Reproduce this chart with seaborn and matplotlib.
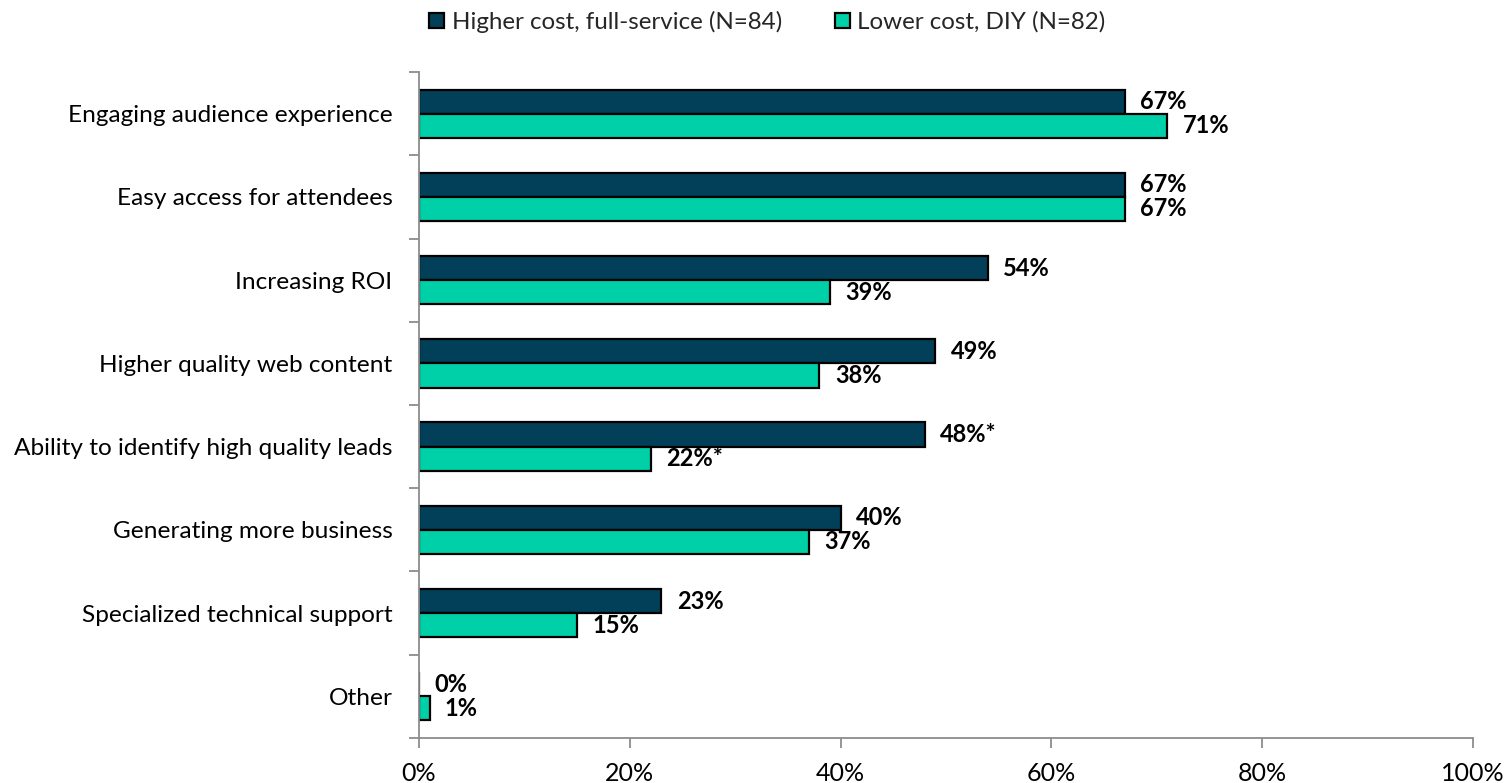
import matplotlib
matplotlib.use("Agg")
import matplotlib.pyplot as plt
import seaborn as sns
import pandas as pd
import numpy as np
from matplotlib.ticker import FixedLocator, PercentFormatter

categories = [
    "Engaging audience experience",
    "Easy access for attendees",
    "Increasing ROI",
    "Higher quality web content",
    "Ability to identify high quality leads",
    "Generating more business",
    "Specialized technical support",
    "Other",
]
series_names = ["Higher cost, full-service (N=84)", "Lower cost, DIY (N=82)"]
higher_cost = [67, 67, 54, 49, 48, 40, 23, 0]
lower_cost = [71, 67, 39, 38, 22, 37, 15, 1]
higher_marks = ["", "", "", "", "*", "", "", ""]
lower_marks = ["", "", "", "", "*", "", "", ""]
x_ticks = [0, 20, 40, 60, 80, 100]

df = pd.DataFrame({
    "category": categories * 2,
    "value": higher_cost + lower_cost,
    "group": [series_names[0]] * len(categories) + [series_names[1]] * len(categories),
})

sns.set_theme(style="white")
plt.rcParams["font.family"] = ["Lato", "DejaVu Sans"]

fig = plt.figure(figsize=(15.05, 7.83), dpi=100)
ax = fig.add_axes([0.2784, 0.0575, 0.7003, 0.8505])

palette = {series_names[0]: "#023F58", series_names[1]: "#00D0A8"}
sns.barplot(
    data=df, y="category", x="value", hue="group", orient="h",
    order=categories, hue_order=series_names, palette=palette,
    width=0.58, edgecolor="black", linewidth=1.6, saturation=1,
    ax=ax, legend=True,
)

# value labels
for cont, vals, marks in zip(ax.containers, [higher_cost, lower_cost], [higher_marks, lower_marks]):
    labels = [f"{v:.0f}%{m}" for v, m in zip(vals, marks)]
    ax.bar_label(cont, labels=labels, padding=11, fontsize=17, fontweight="bold", color="black")

ax.set_xlim(0, 100)
ax.set_ylim(len(categories) - 0.5, -0.5)
ax.xaxis.set_major_locator(FixedLocator(x_ticks))
ax.xaxis.set_major_formatter(PercentFormatter(100, decimals=0))
ax.set_xlabel("")
ax.set_ylabel("")

# category boundary ticks on y axis
ax.yaxis.set_minor_locator(FixedLocator(np.arange(-0.5, len(categories), 1.0)))
ax.tick_params(axis="y", which="major", length=0, pad=19, labelsize=17.6, labelcolor="black")
ax.tick_params(axis="y", which="minor", left=True, length=7, width=1.3, color="#8c8c8c")
ax.tick_params(axis="x", which="major", bottom=True, length=7, width=1.3, color="#8c8c8c",
               pad=10, labelsize=18, labelcolor="black")

for side in ["top", "right"]:
    ax.spines[side].set_visible(False)
for side in ["left", "bottom"]:
    ax.spines[side].set_color("#8c8c8c")
    ax.spines[side].set_linewidth(1.3)

handles, labels = ax.get_legend_handles_labels()
ax.get_legend().remove()
fig.legend(handles, labels, loc="center", bbox_to_anchor=(0.51, 0.972), ncol=2,
           frameon=False, fontsize=17.4, handlelength=0.62, handleheight=0.62,
           handletextpad=0.33, columnspacing=2.15, borderpad=0)

fig.savefig("out.png", dpi=100)
